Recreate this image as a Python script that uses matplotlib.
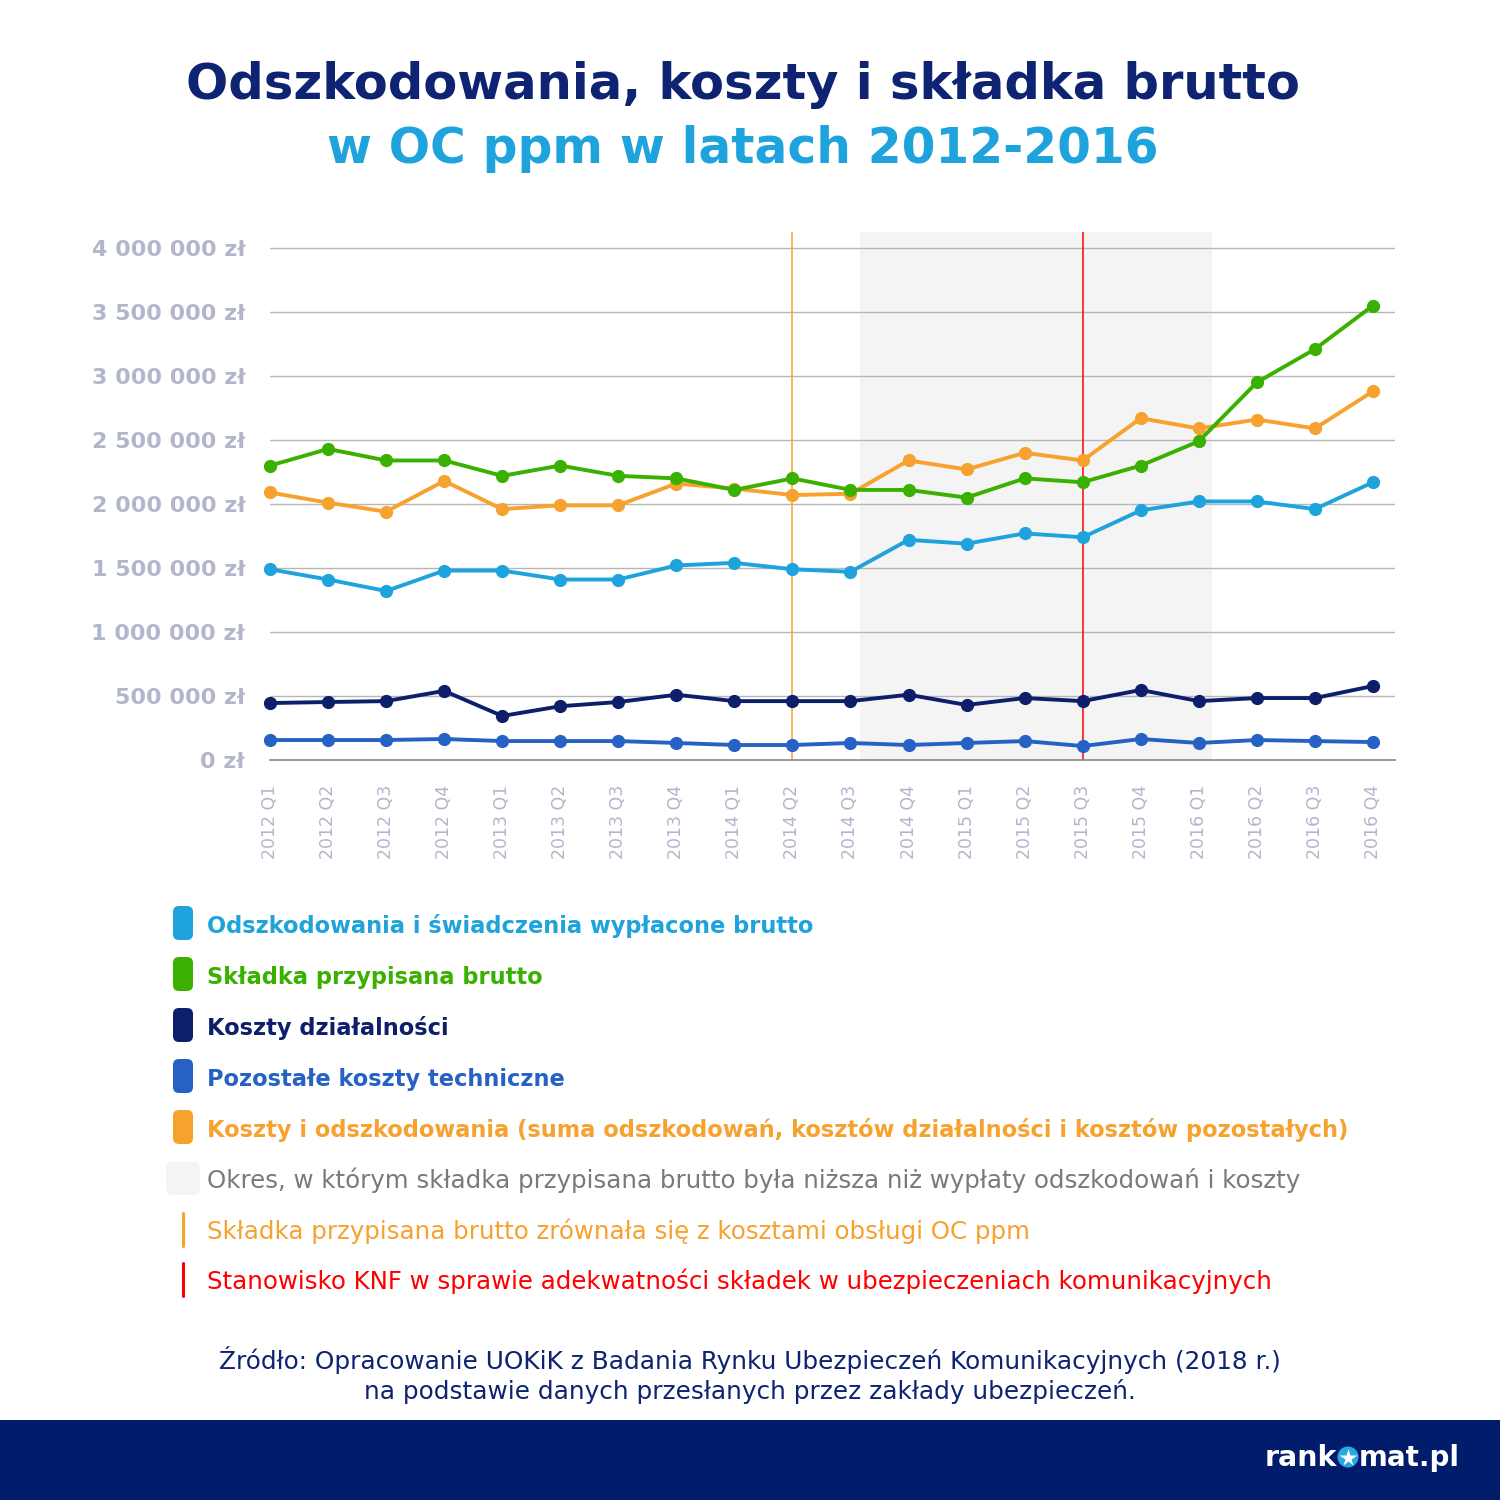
import matplotlib
matplotlib.use('Agg')
import matplotlib.pyplot as plt
from matplotlib.patches import FancyBboxPatch, Rectangle, Circle

# --- data ---------------------------------------------------------------
quarters = ['2012 Q1', '2012 Q2', '2012 Q3', '2012 Q4',
            '2013 Q1', '2013 Q2', '2013 Q3', '2013 Q4',
            '2014 Q1', '2014 Q2', '2014 Q3', '2014 Q4',
            '2015 Q1', '2015 Q2', '2015 Q3', '2015 Q4',
            '2016 Q1', '2016 Q2', '2016 Q3', '2016 Q4']

odszkodowania = [1.49, 1.41, 1.32, 1.48, 1.48, 1.41, 1.41, 1.52, 1.54, 1.49,
                 1.47, 1.72, 1.69, 1.77, 1.74, 1.95, 2.02, 2.02, 1.96, 2.17]
skladka = [2.30, 2.43, 2.34, 2.34, 2.22, 2.30, 2.22, 2.20, 2.11, 2.20,
           2.11, 2.11, 2.05, 2.20, 2.17, 2.30, 2.49, 2.95, 3.21, 3.55]
koszty_dzialalnosci = [0.445, 0.453, 0.46, 0.54, 0.344, 0.42, 0.453, 0.51, 0.46, 0.46,
                       0.46, 0.51, 0.43, 0.484, 0.46, 0.547, 0.46, 0.484, 0.484, 0.578]
pozostale = [0.156, 0.156, 0.156, 0.164, 0.148, 0.148, 0.148, 0.133, 0.117, 0.117,
             0.133, 0.117, 0.133, 0.148, 0.109, 0.164, 0.133, 0.156, 0.148, 0.14]
koszty_i_odszk = [2.09, 2.01, 1.94, 2.18, 1.96, 1.99, 1.99, 2.16, 2.12, 2.07,
                  2.08, 2.34, 2.27, 2.40, 2.34, 2.67, 2.59, 2.66, 2.59, 2.88]

y_ticks = [0, 500000, 1000000, 1500000, 2000000, 2500000, 3000000, 3500000, 4000000]
y_tick_labels = ['0 zł', '500 000 zł', '1 000 000 zł', '1 500 000 zł', '2 000 000 zł',
                 '2 500 000 zł', '3 000 000 zł', '3 500 000 zł', '4 000 000 zł']

shade_start, shade_end = 10.17, 16.22   # premium below costs
line_equal = 9                          # 2014 Q2
line_knf = 14                           # 2015 Q3

legend_labels = [
    'Odszkodowania i świadczenia wypłacone brutto',
    'Składka przypisana brutto',
    'Koszty działalności',
    'Pozostałe koszty techniczne',
    'Koszty i odszkodowania (suma odszkodowań, kosztów działalności i kosztów pozostałych)',
    'Okres, w którym składka przypisana brutto była niższa niż wypłaty odszkodowań i koszty',
    'Składka przypisana brutto zrównała się z kosztami obsługi OC ppm',
    'Stanowisko KNF w sprawie adekwatności składek w ubezpieczeniach komunikacyjnych',
]

# --- colours ------------------------------------------------------------
C_LIGHT = '#1fa3dc'
C_GREEN = '#3ab000'
C_NAVY = '#0d1e6b'
C_MID = '#2662c4'
C_ORANGE = '#f7a12f'
C_RED = '#ff0000'
C_GREY_TXT = '#7a7a7a'
C_TICK = '#b2b6cc'
C_TITLE = '#0e2371'
C_FOOTER = '#001c6b'

plt.rcParams['font.family'] = ['DejaVu Sans']

W = H = 1500
fig = plt.figure(figsize=(15, 15), dpi=100)
renderer = fig.canvas.get_renderer()


def fit(t, target_px):
    w = t.get_window_extent(renderer=renderer).width
    t.set_fontsize(t.get_fontsize() * target_px / w)


# --- main chart ---------------------------------------------------------
ax_l, ax_r, ax_b, ax_t = 270, 1395, 760, 232
ax = fig.add_axes([ax_l / W, 1 - ax_b / H, (ax_r - ax_l) / W, (ax_b - ax_t) / H])
step = 58.05
ax.set_xlim(0, (ax_r - ax_l) / step)
ax.set_ylim(0, 4.125e6)

ax.axvspan(shade_start, shade_end, color='#f4f4f4', zorder=0, lw=0)
for v in y_ticks[1:]:
    ax.axhline(v, color='#b6b6b6', lw=1.0, zorder=1)
ax.axvline(line_equal, color=C_ORANGE, lw=1.1, zorder=2)
ax.axvline(line_knf, color=C_RED, lw=1.1, zorder=2)

x = list(range(len(quarters)))
series = [
    (koszty_i_odszk, C_ORANGE),
    (odszkodowania, C_LIGHT),
    (koszty_dzialalnosci, C_NAVY),
    (pozostale, C_MID),
    (skladka, C_GREEN),
]
for vals, col in series:
    ax.plot(x, [v * 1e6 for v in vals], color=col, lw=2.8, marker='o',
            markersize=8.5, zorder=3, clip_on=False)

for s in ['top', 'right', 'left']:
    ax.spines[s].set_visible(False)
ax.spines['bottom'].set_color('#888888')
ax.spines['bottom'].set_linewidth(1.2)

ax.set_yticks(y_ticks)
ax.set_yticklabels(y_tick_labels, fontsize=16, fontweight='bold', color=C_TICK)
ax.set_xticks(x)
ax.set_xticklabels(quarters, rotation=90, fontsize=12.5, color=C_TICK)
ax.tick_params(axis='y', length=0, pad=18)
ax.tick_params(axis='x', length=0, pad=18)

# --- overlay in pixel coordinates ---------------------------------------
ov = fig.add_axes([0, 0, 1, 1], zorder=5)
ov.set_xlim(0, W)
ov.set_ylim(H, 0)
ov.axis('off')
ov.patch.set_alpha(0)

t1 = ov.text(743, 99, 'Odszkodowania, koszty i składka brutto', ha='center',
             va='baseline', fontsize=40, fontweight='bold', color=C_TITLE)
fit(t1, 1113)
t2 = ov.text(743, 163, 'w OC ppm w latach 2012-2016', ha='center',
             va='baseline', fontsize=40, fontweight='bold', color=C_LIGHT)
fit(t2, 830)

# legend
baselines = [933, 984, 1035, 1086, 1137, 1188, 1239, 1289]
leg_colors = [C_LIGHT, C_GREEN, C_NAVY, C_MID, C_ORANGE, C_GREY_TXT, C_ORANGE, C_RED]
texts = []
for i, (lab, col, yb) in enumerate(zip(legend_labels, leg_colors, baselines)):
    bold = i < 5
    t = ov.text(207, yb, lab, ha='left', va='baseline', fontsize=16,
                fontweight='bold' if bold else 'normal', color=col)
    texts.append(t)
    if i < 5:
        ov.add_patch(FancyBboxPatch((173, yb - 27), 20, 34,
                                    boxstyle='round,pad=0,rounding_size=6',
                                    fc=col, ec='none'))
    elif i == 5:
        ov.add_patch(FancyBboxPatch((166, yb - 26), 34, 33,
                                    boxstyle='round,pad=0,rounding_size=6',
                                    fc='#f4f4f4', ec='none'))
    else:
        ov.plot([183, 183], [yb - 26, yb + 7], color=col, lw=2.2,
                solid_capstyle='round')

fit(texts[4], 1145)
fit(texts[5], 1095)
for t in texts[:4]:
    t.set_fontsize(texts[4].get_fontsize())
for t in texts[6:]:
    t.set_fontsize(texts[5].get_fontsize())

# source
s1 = ov.text(750, 1369, 'Źródło: Opracowanie UOKiK z Badania Rynku Ubezpieczeń '
             'Komunikacyjnych (2018 r.)', ha='center', va='baseline',
             fontsize=16, color=C_TITLE)
fit(s1, 1063)
s2 = ov.text(750, 1399, 'na podstawie danych przesłanych przez zakłady ubezpieczeń.',
             ha='center', va='baseline', fontsize=s1.get_fontsize(), color=C_TITLE)

# footer band with logo
ov.add_patch(Rectangle((0, 1420), W, 80, fc=C_FOOTER, ec='none'))
ov.text(1337, 1466, 'rank', ha='right', va='baseline', fontsize=20.5,
        fontweight='bold', color='white')
ov.add_patch(Circle((1348, 1457), 10.5, fc='#2aa7e0', ec='none'))
ov.plot([1348], [1457.5], marker='*', color='white', markersize=13, mec='none')
ov.text(1359, 1466, 'mat.pl', ha='left', va='baseline', fontsize=20,
        fontweight='bold', color='white')

fig.savefig('out.png', dpi=100, facecolor='white')
